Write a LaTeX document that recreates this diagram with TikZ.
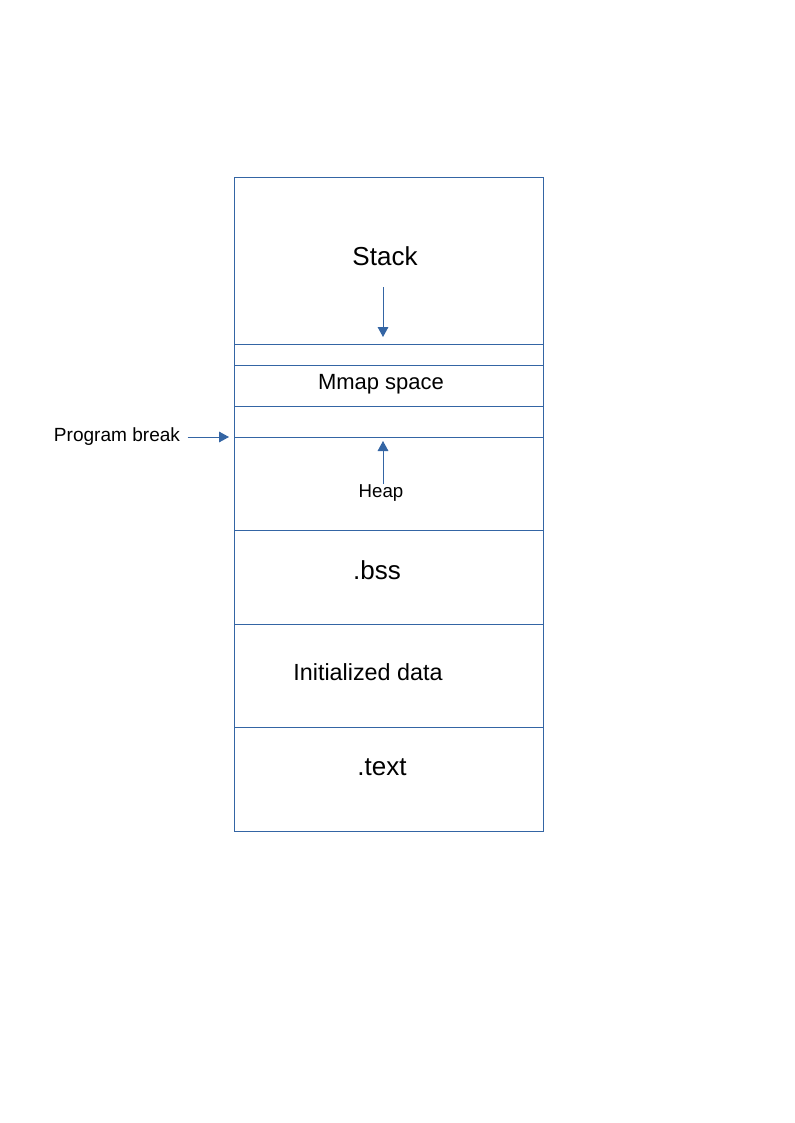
\documentclass[tikz,border=0pt]{standalone}
\usepackage{fontspec}
\setmainfont{Liberation Sans}
\usetikzlibrary{arrows.meta}
\definecolor{segblue}{HTML}{3465A4}

\begin{document}
\begin{tikzpicture}[x=0.75pt,y=-0.75pt]
\tikzstyle{every node}+=[inner sep=0pt]
\tikzstyle{seg}=[draw=segblue,line width=0.75pt]
\tikzstyle{growarrow}=[segblue,line width=0.75pt,-{Triangle[length=7.5pt,width=8pt]}]
\useasboundingbox (0,0) rectangle (794,1123);
% memory layout
\draw [seg] (234,178) rectangle (543,831);
\foreach \y in {344,365,406,437,530,624,727}
  \draw [seg] (234,\y) -- (543,\y);
% labels
\node (stack) at (385,256) {\fontsize{19.5}{22}\selectfont Stack};
\node (mmap) at (381,384) {\fontsize{16.5}{19}\selectfont Mmap space};
\node (heap) at (381,493) {\fontsize{14}{16}\selectfont Heap};
\node (bss) at (377,570) {\fontsize{19.5}{22}\selectfont .bss};
\node (idata) at (368,672) {\fontsize{17.5}{20}\selectfont Initialized data};
\node (text) at (382,767) {\fontsize{19.5}{22}\selectfont .text};
\node (brk) at (117,437) {\fontsize{14.3}{16}\selectfont Program break};
% arrows
\coordinate (stacktop) at (383,287);
\coordinate (stackend) at (383,337);
\coordinate (heapbot) at (383,484);
\coordinate (heapend) at (383,441);
\coordinate (brkend) at (229,437);
\draw [growarrow] (stacktop) -- (stackend);
\draw [growarrow] (heapbot) -- (heapend);
\draw [growarrow,shorten <=5.5pt] (brk.east |- brkend) -- (brkend);
\end{tikzpicture}
\end{document}
